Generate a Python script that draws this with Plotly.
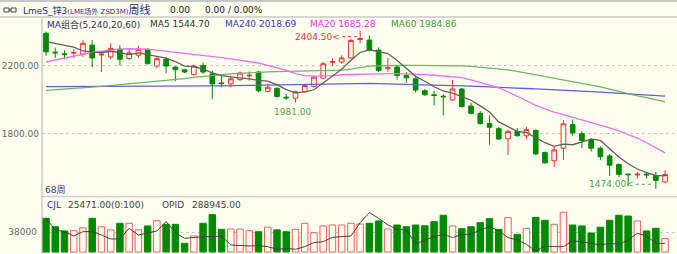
import plotly.graph_objects as go
import pandas as pd

W, H = 677, 254
BG = "#FFFFF0"
UP = "#F03030"
DOWN = "#008A00"
VOL_UP = "#F06060"
FONT = "DejaVu Sans, Noto Sans CJK SC"
NAVY = "#2A2A80"

# ---- price data (weekly candles) ----
opens = [2389, 2278, 2268, 2272, 2266, 2319, 2262, 2250, 2296, 2240,
         2260, 2294, 2196, 2236, 2190, 2174, 2146, 2200, 2150, 2097,
         2091, 2116, 2138, 2161, 2047, 2065, 2013, 2007, 2045, 2077,
         2125, 2218, 2220, 2244, 2352, 2349, 2290, 2182, 2190, 2140,
         2121, 2051, 2027, 2019, 1997, 2061, 1961, 1918, 1858, 1828,
         1768, 1812, 1786, 1818, 1687, 1639, 1713, 1852, 1798, 1762,
         1713, 1667, 1617, 1561, 1556, 1560, 1553, 1514]
highs = [2399, 2304, 2290, 2296, 2349, 2349, 2272, 2330, 2319, 2294,
         2316, 2300, 2250, 2250, 2194, 2180, 2204, 2216, 2168, 2140,
         2140, 2164, 2164, 2168, 2091, 2071, 2031, 2051, 2091, 2140,
         2220, 2244, 2260, 2359, 2404.5, 2377, 2306, 2244, 2200, 2161,
         2131, 2061, 2051, 2031, 2116, 2065, 1981, 1931, 1906, 1838,
         1822, 1832, 1838, 1822, 1693, 1722, 1878, 1882, 1812, 1773,
         1722, 1679, 1623, 1564, 1573, 1573, 1573, 1583]
lows = [2256, 2244, 2236, 2244, 2250, 2190, 2161, 2236, 2200, 2234,
        2244, 2204, 2184, 2155, 2107, 2155, 2140, 2150, 2001, 2071,
        2071, 2110, 2110, 2043, 2041, 2011, 1997, 1981, 2041, 2071,
        2121, 2196, 2210, 2240, 2330, 2282, 2161, 2161, 2116, 2097,
        2041, 2021, 1965, 1906, 1991, 1952, 1912, 1852, 1733, 1762,
        1673, 1782, 1767, 1673, 1623, 1603, 1643, 1786, 1713, 1693,
        1643, 1549, 1543, 1488, 1534, 1534, 1474, 1507]
closes = [2280, 2274, 2264, 2276, 2330, 2244, 2266, 2300, 2236, 2274,
          2294, 2210, 2240, 2196, 2174, 2161, 2196, 2161, 2091, 2093,
          2121, 2155, 2142, 2051, 2071, 2017, 2009, 2045, 2081, 2131,
          2210, 2222, 2244, 2346, 2358, 2290, 2170, 2186, 2140, 2127,
          2055, 2027, 2023, 2015, 2061, 1958, 1918, 1858, 1836, 1767,
          1812, 1786, 1822, 1679, 1627, 1703, 1856, 1802, 1758, 1713,
          1663, 1613, 1559, 1557, 1560, 1556, 1523, 1558]

# MA5 values of the first four weeks (earlier closes not shown)
ma5_head = [2340, 2330, 2322, 2308]
ma5_last_label = 1544.70
ma20 = [2220, 2232, 2244, 2256, 2266, 2276, 2284, 2291, 2296, 2298,
        2298, 2296, 2290, 2284, 2278, 2273, 2268, 2261, 2254, 2246,
        2238, 2230, 2222, 2214, 2200, 2186, 2170, 2152, 2140, 2137,
        2138, 2140, 2145, 2147, 2148, 2150, 2152, 2152, 2151, 2150,
        2148, 2146, 2142, 2138, 2135, 2128, 2115, 2100, 2085, 2068,
        2045, 2020, 1992, 1965, 1945, 1925, 1910, 1895, 1880, 1862,
        1848, 1832, 1815, 1795, 1772, 1745, 1715, 1685.28]
ma60 = [2053, 2056, 2060, 2063, 2067, 2072, 2077, 2082, 2087, 2091,
        2095, 2100, 2104, 2109, 2115, 2122, 2130, 2136, 2141, 2146,
        2150, 2153, 2157, 2160, 2162, 2163, 2164, 2165, 2166, 2167,
        2168, 2168, 2172, 2178, 2188, 2196, 2198, 2200, 2200, 2200,
        2200, 2200, 2199, 2199, 2198, 2197, 2194, 2190, 2186, 2182,
        2174, 2165, 2155, 2145, 2135, 2125, 2115, 2105, 2095, 2085,
        2073, 2060, 2046, 2032, 2021, 2010, 1997, 1984.86]
ma240 = [2075, 2075, 2075, 2076, 2076, 2076, 2076, 2076, 2076, 2076,
         2077, 2077, 2077, 2077, 2077, 2078, 2078, 2078, 2079, 2080,
         2081, 2083, 2084, 2085, 2086, 2088, 2089, 2090, 2091, 2092,
         2093, 2094, 2094, 2095, 2095, 2094, 2093, 2092, 2091, 2089,
         2088, 2086, 2085, 2083, 2082, 2080, 2078, 2075, 2073, 2070,
         2068, 2066, 2064, 2062, 2060, 2057, 2054, 2052, 2049, 2046,
         2043, 2040, 2037, 2033, 2030, 2026, 2022, 2018.69]

# ---- volume (CJL) and open interest (OPID) ----
volumes = [64000, 48000, 40000, 40500, 46000, 64000, 48000, 42000, 54500, 54500,
           42000, 49500, 59500, 52500, 52500, 16500, 30500, 54500, 71000, 43000,
           43700, 43700, 40500, 38500, 47000, 42000, 38500, 43000, 54500, 36700,
           49500, 51300, 51300, 54500, 53200, 54500, 59000, 43700, 51300, 48000,
           51300, 49800, 57600, 69700, 49500, 44300, 48000, 55700, 63300, 43000,
           65200, 33600, 45000, 65800, 60200, 52600, 75400, 51300, 49500, 36100,
           47000, 60200, 69700, 68400, 59000, 40000, 45000, 25471]
opid = [364000, 329000, 324000, 311000, 324000, 324000, 314000, 302000, 302000, 334000,
        314000, 319000, 326000, 354000, 321000, 304000, 307000, 309000, 309000, 311000,
        284000, 282000, 281000, 282000, 279000, 271000, 274000, 271000, 279000, 291000,
        294000, 307000, 309000, 311000, 351000, 381000, 364000, 344000, 331000, 329000,
        287000, 297000, 309000, 316000, 306000, 316000, 316000, 329000, 339000, 327000,
        306000, 299000, 286000, 266000, 281000, 279000, 279000, 297000, 294000, 289000,
        284000, 289000, 286000, 299000, 319000, 311000, 289000, 288945]

n = len(closes)
idx = list(range(n))
ma5 = pd.Series(closes).rolling(5).mean().tolist()
ma5[:4] = ma5_head


# pixel helpers (margins are zero so paper == figure)
def px(x):
    return x / W


def py(y):
    return 1 - y / H


X0 = 42  # left edge of plotting area
xr = [-0.433, 68.29]

fig = go.Figure()

fig.add_trace(go.Candlestick(
    x=idx, open=opens, high=highs, low=lows, close=closes,
    increasing=dict(fillcolor=BG, line=dict(color=UP, width=1)),
    decreasing=dict(fillcolor=DOWN, line=dict(color=DOWN, width=1)),
    whiskerwidth=0, xaxis="x", yaxis="y", showlegend=False, hoverinfo="skip"))

for vals, color in [(ma240, "#6060E0"), (ma60, "#6CB46C"),
                    (ma20, "#EE70EE"), (ma5, "#606060")]:
    fig.add_trace(go.Scatter(x=idx, y=vals, mode="lines",
                             line=dict(color=color, width=1.3),
                             xaxis="x", yaxis="y", showlegend=False,
                             hoverinfo="skip"))

up = [c >= o for o, c in zip(opens, closes)]
fig.add_trace(go.Bar(
    x=idx, y=volumes, width=0.7,
    marker=dict(color=[BG if u else DOWN for u in up],
                line=dict(color=[VOL_UP if u else DOWN for u in up], width=1)),
    xaxis="x2", yaxis="y2", showlegend=False, hoverinfo="skip"))
fig.add_trace(go.Scatter(x=idx, y=opid, mode="lines",
                         line=dict(color="#404040", width=1),
                         xaxis="x2", yaxis="y3", showlegend=False,
                         hoverinfo="skip"))

price_dom = [py(195), py(18)]
vol_dom = [0, py(198)]

tickfont = dict(family=FONT, size=9, color="#666666")
fig.update_layout(
    width=W, height=H, margin=dict(l=0, r=0, t=0, b=0),
    paper_bgcolor=BG, plot_bgcolor=BG,
    boxgap=0.28, bargap=0.3,
    xaxis=dict(domain=[px(X0), 1], range=xr, visible=False,
               rangeslider=dict(visible=False), anchor="y"),
    xaxis2=dict(domain=[px(X0), 1], range=xr, visible=False, anchor="y2"),
    yaxis=dict(domain=price_dom, range=[1437.6, 2478.8], anchor="x",
               tickvals=[1800, 2200], ticktext=["1800.00", "2200.00"],
               showgrid=True, griddash="dot", gridcolor="#C8C8C8",
               gridwidth=1, zeroline=False, showline=False, ticks="",
               tickfont=tickfont, automargin=False, ticklabelstandoff=2),
    yaxis2=dict(domain=vol_dom, range=[-3800, 102600], anchor="x2",
                tickvals=[38000], ticktext=["38000"],
                showgrid=True, griddash="dot", gridcolor="#C8C8C8",
                zeroline=False, showline=False, ticks="",
                tickfont=tickfont, automargin=False, ticklabelstandoff=4),
    yaxis3=dict(overlaying="y2", range=[256945, 424945], visible=False,
                anchor="x2"),
)

shapes = [
    dict(type="line", xref="paper", yref="paper", x0=0, x1=1, y0=py(1), y1=py(1),
         line=dict(color="#C8C8C8", width=2)),
    dict(type="line", xref="paper", yref="paper", x0=0, x1=1, y0=py(17), y1=py(17),
         line=dict(color="#C8C8C8", width=1.5)),
    dict(type="line", xref="paper", yref="paper", x0=px(X0), x1=1, y0=py(196.5),
         y1=py(196.5), line=dict(color="#CFCFCF", width=1.5)),
    dict(type="line", xref="paper", yref="paper", x0=px(X0), x1=px(X0), y0=py(18),
         y1=0, line=dict(color="#B0B0B0", width=1)),
    # header icon
    dict(type="rect", xref="paper", yref="paper", x0=px(4), x1=px(9), y0=py(12),
         y1=py(8), line=dict(color="#404040", width=1)),
    dict(type="rect", xref="paper", yref="paper", x0=px(11), x1=px(16), y0=py(12),
         y1=py(8), line=dict(color="#404040", width=1)),
    dict(type="line", xref="paper", yref="paper", x0=px(9), x1=px(11), y0=py(10),
         y1=py(10), line=dict(color="#404040", width=1)),
]

# markers for highest / lowest prices
i_hi = highs.index(max(highs))
i_lo = lows.index(min(lows))
i_lo1 = lows.index(min(lows[:34]))
shapes.append(dict(type="line", xref="x", yref="y", xsizemode="pixel",
                   ysizemode="pixel", xanchor=i_hi, yanchor=max(highs),
                   x0=-18, x1=-2, y0=-6, y1=-6,
                   line=dict(color=UP, width=1, dash="dot")))
shapes.append(dict(type="line", xref="x", yref="y", xsizemode="pixel",
                   ysizemode="pixel", xanchor=i_lo, yanchor=min(lows),
                   x0=-20, x1=-2, y0=4.5, y1=4.5,
                   line=dict(color="#55A055", width=1, dash="dot")))
fig.update_layout(shapes=shapes)

ann = []


def txt(s, x, y, color, size=9, anchor="left"):
    ann.append(dict(text=s, xref="paper", yref="paper", x=px(x), y=py(y),
                    xanchor=anchor, yanchor="middle", showarrow=False,
                    font=dict(family=FONT, size=size, color=color)))


txt("LmeS_锌3<span style='font-size:7px'>(LME场外 ZSD3M)</span>"
    "<span style='font-size:11px'>周线</span>", 21, 10, NAVY, 9)
txt("0.00", 168, 10, "#202020", 9)
txt("0.00 / 0.00%", 203, 10, "#202020", 9)

txt("MA组合(5,240,20,60)", 45, 24, "#303050", 9)
txt("MA5 %.2f" % ma5_last_label, 148, 24, "#303030", 9)
txt("MA240 %.2f" % ma240[-1], 223, 24, "#3535C8", 9)
txt("MA20 %.2f" % ma20[-1], 308, 24, "#EE30EE", 9)
txt("MA60 %.2f" % ma60[-1], 389, 24, "#35A035", 9)

txt("68周", 43, 190, "#3535A0", 9)
txt("CJL", 45, 205, "#3535A0", 9)
txt("%.2f(0:100)" % volumes[-1], 66, 205, "#404040", 9)
txt("OPID", 160, 205, "#404040", 9)
txt("%.2f" % opid[-1], 190, 205, "#404040", 9)

ann.append(dict(text="%.2f<" % max(highs), xref="x", yref="y", x=i_hi, y=max(highs),
                xanchor="right", yanchor="middle", xshift=-18, yshift=-6,
                showarrow=False, font=dict(family=FONT, size=9, color=UP)))
ann.append(dict(text="%.2f" % lows[i_lo1], xref="x", yref="y", x=i_lo1, y=lows[i_lo1],
                xanchor="center", yanchor="middle", xshift=-3, yshift=-9,
                showarrow=False, font=dict(family=FONT, size=9, color="#4CA04C")))
ann.append(dict(text="%.2f<" % min(lows), xref="x", yref="y", x=i_lo, y=min(lows),
                xanchor="right", yanchor="middle", xshift=-20, yshift=4.5,
                showarrow=False, font=dict(family=FONT, size=9, color="#4CA04C")))
fig.update_layout(annotations=ann)

fig.write_html("out.html")
